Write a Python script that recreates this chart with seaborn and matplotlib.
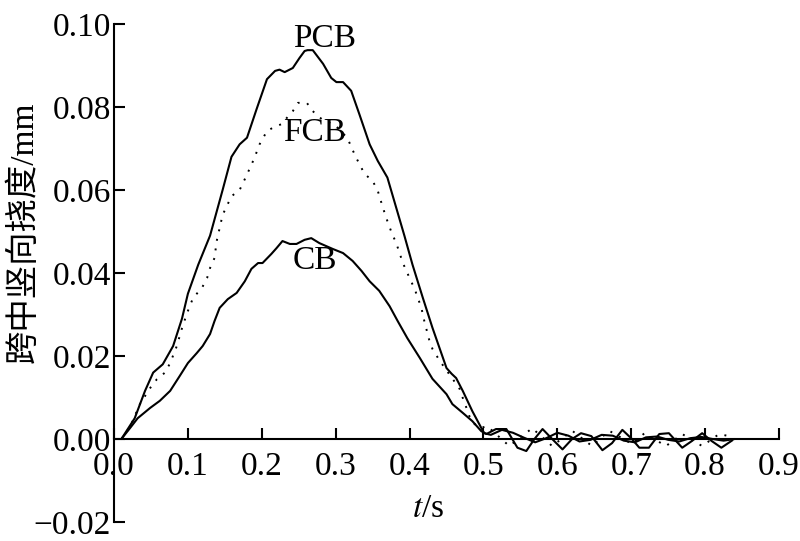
import numpy as np
import pandas as pd
import matplotlib
matplotlib.use("Agg")
import matplotlib.pyplot as plt
import seaborn as sns

# mid-span vertical deflection (mm) vs time (s)
pcb_t = [0.010, 0.028, 0.042, 0.053, 0.066, 0.080, 0.092, 0.100, 0.114, 0.130,
         0.147, 0.159, 0.170, 0.180, 0.193, 0.207, 0.218, 0.224, 0.231, 0.242,
         0.251, 0.258, 0.262, 0.269, 0.283, 0.294, 0.301, 0.310, 0.321, 0.332,
         0.346, 0.357, 0.370, 0.382, 0.393, 0.404, 0.418, 0.431, 0.450, 0.457,
         0.463, 0.472, 0.485, 0.497, 0.501, 0.510, 0.525, 0.540, 0.555, 0.570,
         0.585, 0.600, 0.615, 0.630, 0.645, 0.660, 0.675, 0.690, 0.705, 0.720,
         0.735, 0.750, 0.765, 0.780, 0.795, 0.810, 0.825, 0.840]
pcb_v = [0.0, 0.0050, 0.0116, 0.0160, 0.0180, 0.0224, 0.0290, 0.0350, 0.0420, 0.0490,
         0.0600, 0.0680, 0.0710, 0.0726, 0.0795, 0.0867, 0.0887, 0.0890, 0.0884, 0.0894,
         0.0918, 0.0935, 0.0937, 0.0937, 0.0904, 0.0870, 0.0860, 0.0860, 0.0839, 0.0783,
         0.0710, 0.0670, 0.0630, 0.0557, 0.0490, 0.0420, 0.0340, 0.0268, 0.0171, 0.0157,
         0.0147, 0.0116, 0.0067, 0.0027, 0.0014, 0.0010, 0.0022, 0.0015, 0.0003, -0.0008,
         0.0002, 0.0015, 0.0008, -0.0006, -0.0002, 0.0010, 0.0008, -0.0004, -0.0008, 0.0004,
         0.0006, -0.0002, -0.0006, 0.0002, 0.0005, 0.0, -0.0004, 0.0]

fcb_t = [0.010, 0.022, 0.035, 0.049, 0.058, 0.069, 0.076, 0.085, 0.092, 0.099,
         0.107, 0.119, 0.126, 0.130, 0.136, 0.139, 0.147, 0.159, 0.170, 0.177,
         0.184, 0.190, 0.197, 0.207, 0.215, 0.227, 0.234, 0.242, 0.249, 0.261,
         0.269, 0.281, 0.300, 0.316, 0.322, 0.328, 0.339, 0.350, 0.357, 0.364,
         0.370, 0.376, 0.382, 0.391, 0.400, 0.407, 0.416, 0.420, 0.427, 0.431,
         0.441, 0.463, 0.468, 0.472, 0.477, 0.481, 0.488, 0.497, 0.505, 0.535,
         0.566, 0.593, 0.620, 0.647, 0.670, 0.701, 0.718, 0.747, 0.769, 0.796,
         0.819, 0.832]
fcb_v = [0.0, 0.0030, 0.0084, 0.0123, 0.0144, 0.0160, 0.0183, 0.0224, 0.0267, 0.0304,
         0.0340, 0.0364, 0.0388, 0.0412, 0.0436, 0.0477, 0.0540, 0.0585, 0.0600, 0.0626,
         0.0653, 0.0677, 0.0710, 0.0742, 0.0750, 0.0759, 0.0774, 0.0790, 0.0810, 0.0810,
         0.0790, 0.0771, 0.0755, 0.0725, 0.0700, 0.0677, 0.0639, 0.0622, 0.0598, 0.0557,
         0.0525, 0.0496, 0.0472, 0.0424, 0.0388, 0.0361, 0.0316, 0.0284, 0.0236, 0.0217,
         0.0188, 0.0133, 0.0120, 0.0099, 0.0075, 0.0055, 0.0036, 0.0027, 0.0031, -0.0017,
         0.0026, -0.0017, 0.0020, -0.0017, 0.0020, -0.0012, 0.0014, -0.0017, 0.0012, -0.0017,
         0.0012, 0.0007]

cb_t = [0.010, 0.022, 0.032, 0.049, 0.062, 0.076, 0.089, 0.100, 0.112, 0.120,
        0.130, 0.136, 0.143, 0.154, 0.166, 0.177, 0.186, 0.195, 0.201, 0.213,
        0.220, 0.228, 0.238, 0.247, 0.258, 0.267, 0.278, 0.296, 0.310, 0.323,
        0.335, 0.346, 0.359, 0.373, 0.384, 0.397, 0.414, 0.431, 0.450, 0.458,
        0.472, 0.485, 0.497, 0.504, 0.517, 0.531, 0.539, 0.546, 0.558, 0.569,
        0.580, 0.593, 0.607, 0.620, 0.632, 0.646, 0.661, 0.674, 0.688, 0.701,
        0.711, 0.724, 0.738, 0.751, 0.769, 0.782, 0.796, 0.809, 0.822, 0.837]
cb_v = [0.0, 0.0027, 0.0050, 0.0075, 0.0092, 0.0116, 0.0152, 0.0183, 0.0207, 0.0224,
        0.0253, 0.0284, 0.0316, 0.0337, 0.0352, 0.0380, 0.0410, 0.0424, 0.0424, 0.0446,
        0.0460, 0.0477, 0.0470, 0.0470, 0.0480, 0.0484, 0.0472, 0.0458, 0.0448, 0.0429,
        0.0405, 0.0380, 0.0357, 0.0320, 0.0284, 0.0243, 0.0195, 0.0145, 0.0108, 0.0084,
        0.0063, 0.0043, 0.0019, 0.0012, 0.0024, 0.0024, 0.0, -0.0021, -0.0029, 0.0,
        0.0024, 0.0, -0.0025, 0.0, 0.0014, 0.0007, -0.0027, -0.0010, 0.0022, 0.0,
        -0.0021, -0.0021, 0.0012, 0.0014, -0.0021, -0.0005, 0.0014, -0.0005, -0.0021, -0.0003]

x_ticks = [0.0, 0.1, 0.2, 0.3, 0.4, 0.5, 0.6, 0.7, 0.8, 0.9]
y_ticks = [-0.02, 0.00, 0.02, 0.04, 0.06, 0.08, 0.10]

sns.set_theme(style="white")
plt.rcParams['font.family'] = ['Liberation Serif', 'Noto Sans CJK SC']
plt.rcParams['mathtext.fontset'] = 'stix'
plt.rcParams['axes.unicode_minus'] = False
plt.rcParams['text.color'] = 'black'
plt.rcParams['axes.labelcolor'] = 'black'

FS = 24

fig = plt.figure(figsize=(8, 5.41), dpi=100)
ax = fig.add_axes([114 / 800, 1 - 522 / 541, 665 / 800, 498 / 541])

series = {
    'PCB': (pcb_t, pcb_v, '-'),
    'FCB': (fcb_t, fcb_v, (0, (1, 4))),
    'CB': (cb_t, cb_v, '-'),
}
for name, (t, v, ls) in series.items():
    df = pd.DataFrame({'t': t, 'v': v})
    sns.lineplot(data=df, x='t', y='v', ax=ax, color='black', estimator=None,
                 linestyle=ls, linewidth=1.5 if ls == '-' else 1.4)

ax.text(0.285, 0.0964, 'PCB', fontsize=FS, ha='center', va='center', color='black')
ax.text(0.272, 0.0737, 'FCB', fontsize=FS, ha='center', va='center', color='black')
ax.text(0.272, 0.0429, 'CB', fontsize=FS, ha='center', va='center', color='black')

ax.set_xlim(0, 0.9)
ax.set_ylim(-0.02, 0.10)
ax.set_xticks(x_ticks)
ax.set_yticks(y_ticks)
ax.set_xticklabels([f'{x:.1f}' for x in x_ticks])
ax.set_yticklabels(['\u22120.02' if y < 0 else f'{y:.2f}' for y in y_ticks])

for side in ['top', 'right']:
    ax.spines[side].set_visible(False)
ax.spines['bottom'].set_position(('data', 0))
ax.spines['left'].set_bounds(-0.02, 0.10)
ax.spines['bottom'].set_bounds(0, 0.9)
for side in ['left', 'bottom']:
    ax.spines[side].set_color('black')
    ax.spines[side].set_linewidth(1.5)

ax.tick_params(axis='both', direction='in', length=8, width=1.5, colors='black',
               labelsize=FS, bottom=True, left=True)
ax.tick_params(axis='x', pad=9)
ax.tick_params(axis='y', pad=2)

ax.set_xlabel('$t$/s', fontsize=FS)
ax.xaxis.set_label_coords(0.472, 0.058)
ax.set_ylabel('跨中竖向挠度/mm', fontsize=24)
ax.yaxis.set_label_coords(-0.112, 0.582)
ax.grid(False)

fig.savefig('out.png', dpi=100)
plt.close(fig)
